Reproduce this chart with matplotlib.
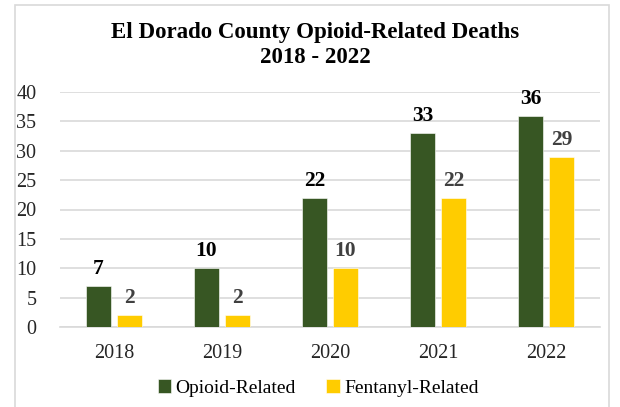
import numpy as np
import matplotlib.pyplot as plt
from matplotlib.patches import Rectangle

years = ['2018', '2019', '2020', '2021', '2022']
opioid = [7, 10, 22, 33, 36]
fentanyl = [2, 2, 10, 22, 29]
series_names = ['Opioid-Related', 'Fentanyl-Related']
title = 'El Dorado County Opioid-Related Deaths\n2018 - 2022'

green = '#375623'
yellow = '#ffcc00'
grid_col = '#d9d9d9'

plt.rcParams['font.family'] = ['Liberation Serif', 'DejaVu Serif']

fig = plt.figure(figsize=(6.2, 4.07), dpi=100)
ax = fig.add_axes([60 / 620, 80 / 407, 540 / 620, 235 / 407])

# outer chart border
fig.patches.append(Rectangle((15 / 620, -0.05), 594 / 620, 1.05 - 5 / 407,
                             transform=fig.transFigure, fill=False,
                             edgecolor=grid_col, linewidth=1.2))

x = np.arange(len(years))
w = 0.23
off = 0.144
b1 = ax.bar(x - off, opioid, w, color=green, edgecolor='white', linewidth=0.4,
            label=series_names[0], zorder=3)
b2 = ax.bar(x + off, fentanyl, w, color=yellow, edgecolor='white', linewidth=0.4,
            label=series_names[1], zorder=3)

ax.bar_label(b1, padding=5, fontsize=15.5, fontweight='bold', color='black')
ax.bar_label(b2, padding=5, fontsize=15.5, fontweight='bold', color='#404040')

ax.set_xlim(-0.5, len(years) - 0.5)
ax.set_ylim(0, 40)
ax.set_yticks(range(0, 41, 5))
ax.set_xticks(x)
ax.set_xticklabels(years)
ax.tick_params(axis='both', length=0, labelsize=14.5, colors='#262626')
ax.tick_params(axis='y', pad=17)
ax.tick_params(axis='x', pad=12)
ax.yaxis.grid(True, color=grid_col, linewidth=1.2, zorder=0)
ax.set_axisbelow(True)
for s in ['top', 'right', 'left']:
    ax.spines[s].set_visible(False)
ax.spines['bottom'].set_color(grid_col)
ax.spines['bottom'].set_linewidth(1.2)

fig.text(315 / 620, 1 - 45 / 407, title, ha='center', va='center',
         fontsize=16.5, fontweight='bold', linespacing=1.2)

fig.legend(handles=[b1, b2], loc='center', bbox_to_anchor=(318 / 620, 1 - 388 / 407),
           ncol=2, frameon=False, fontsize=14, handlelength=0.7, handleheight=0.7,
           handletextpad=0.2, columnspacing=1.6, borderpad=0)

fig.savefig('out.png', dpi=100)
